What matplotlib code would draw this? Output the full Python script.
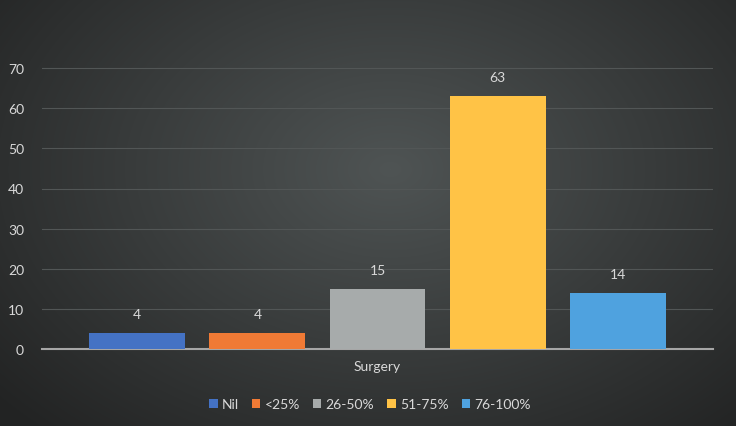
import numpy as np
import matplotlib.pyplot as plt

categories = ["Nil", "<25%", "26-50%", "51-75%", "76-100%"]
values = [4, 4, 15, 63, 14]
colors = ["#4472C4", "#F07A35", "#A7ABAB", "#FFC346", "#4FA2DF"]
group_label = "Surgery"

plt.rcParams['font.family'] = ['Lato', 'DejaVu Sans']

fig = plt.figure(figsize=(7.36, 4.27), dpi=100)

# radial gradient background
bg = fig.add_axes([0, 0, 1, 1], zorder=0)
yy, xx = np.mgrid[0:427, 0:736]
d = np.sqrt(((xx - 390) / 520.0) ** 2 + ((yy - 170) / 360.0) ** 2)
d = np.clip(d, 0, 1)
c0 = np.array([0x4f, 0x54, 0x54]) / 255.0
c1 = np.array([0x22, 0x23, 0x23]) / 255.0
img = c0[None, None, :] * (1 - d[..., None]) + c1[None, None, :] * d[..., None]
bg.imshow(img, aspect='auto', extent=[0, 1, 0, 1], origin='upper')
bg.set_axis_off()

ax = fig.add_axes([42 / 736, 77 / 427, 671 / 736, 321 / 427], zorder=1)
ax.patch.set_alpha(0)

step = 0.179
width = 0.143
n = len(categories)
for i, (cat, v, c) in enumerate(zip(categories, values, colors)):
    x = (i - (n - 1) / 2) * step
    ax.bar(x, v, width=width, color=c, label=cat, zorder=3)
    ax.text(x, v + 3.2, str(v), ha='center', va='bottom', color='#d9d9d9', fontsize=10)

ax.set_xlim(-0.5, 0.5)
ax.set_ylim(0, 80)
ax.set_yticks(range(0, 80, 10))
ax.yaxis.grid(True, color='#525656', linewidth=0.8, zorder=0)
ax.set_axisbelow(True)
ax.tick_params(axis='y', length=0, colors='#d9d9d9', labelsize=10, pad=13)
ax.set_xticks([0])
ax.set_xticklabels([group_label])
ax.tick_params(axis='x', length=0, colors='#d9d9d9', labelsize=10, pad=8)
for s in ['top', 'right', 'left']:
    ax.spines[s].set_visible(False)
ax.spines['bottom'].set_color('#a6a6a6')
ax.spines['bottom'].set_linewidth(1.5)

leg = fig.legend(loc='center', bbox_to_anchor=(370 / 736, 1 - 405 / 427), ncol=5,
                 frameon=False, fontsize=10, handlelength=0.6, handleheight=0.6,
                 handletextpad=0.3, columnspacing=0.95)
for t in leg.get_texts():
    t.set_color('#d9d9d9')

fig.savefig('out.png', dpi=100)
